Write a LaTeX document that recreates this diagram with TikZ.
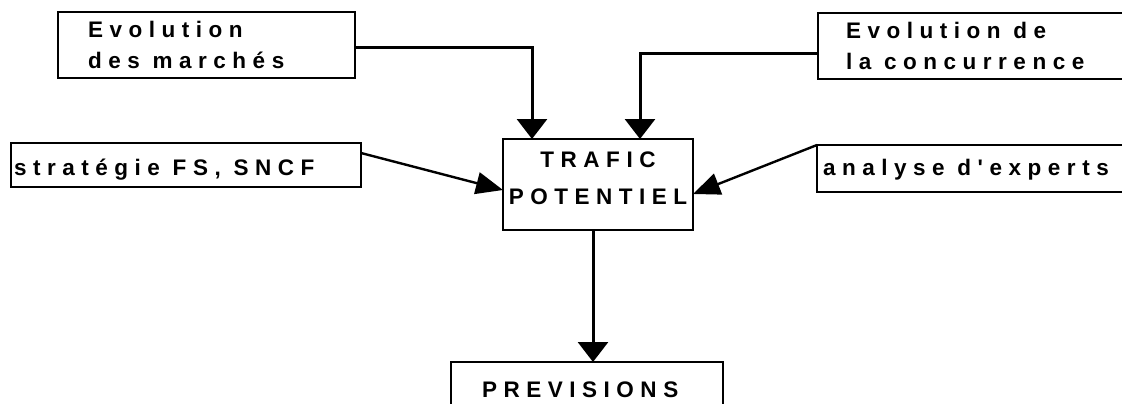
\documentclass[tikz,border=0pt]{standalone}
\usepackage{fontspec}
\usetikzlibrary{arrows.meta}
\newfontfamily\plotfont{Liberation Sans Bold}[LetterSpace=29]
\newcommand\plotface[1]{\plotfont\fontsize{22.5}{#1}\selectfont}
\begin{document}
\begin{tikzpicture}[x=1pt,y=-1pt,
  box/.style={draw, line width=2.2pt, rectangle, inner ysep=0pt, outer sep=0pt,
    font=\plotface{31},
    % keep the font's own interword space inside aligned text
    execute at begin node={\spaceskip=0pt\relax\xspaceskip=0pt\relax}},
  link/.style={line width=3pt, -{Triangle[width=30pt,length=20pt]}},
  slant/.style={line width=2.4pt, -{Triangle[width=22pt,length=27pt]}}]
\clip (0,0) rectangle (1122,404);
\fill[white] (0,0) rectangle (1122,404);

% input boxes
\node[box, anchor=north west, minimum width=297pt, minimum height=66pt,
  inner xsep=30pt, text width=237pt, align=left] (mar) at (58,12)
  {Evolution\\des marchés};
\node[box, anchor=north west, minimum width=330pt, minimum height=66pt,
  inner xsep=28pt, text width=274pt, align=left] (conc) at (818,13)
  {Evolution de\\la concurrence};
\node[box, anchor=north west, minimum width=350pt, minimum height=44pt,
  inner xsep=3pt, text width=344pt, align=left, text height=20pt, text depth=0pt] (strat) at (11,143)
  {stratégie FS, SNCF};
\node[box, anchor=north west, minimum width=330pt, minimum height=47pt,
  inner xsep=6pt, text width=318pt, align=left, text height=17pt, text depth=4pt] (ana) at (817,145)
  {analyse d'experts};

% central box and result
\node[box, anchor=north west, minimum width=190pt, minimum height=91pt,
  inner xsep=0pt, align=center, font=\plotface{37}] (traf) at (503,139)
  {TRAFIC\\POTENTIEL\rule[-12pt]{0pt}{12pt}};
\node[box, anchor=north west, minimum width=272pt, minimum height=70pt,
  inner xsep=31pt, text width=210pt, align=left, text height=16pt, text depth=16pt] (prev) at (451,362)
  {PREVISIONS};

% connectors
\draw[link] ([yshift=-3pt]mar.east) -| ([xshift=29pt]traf.north west);
\draw[link] ([yshift=-8pt]conc.west) -| ([xshift=-53pt]traf.north east);
\draw[slant] ([yshift=12pt]strat.east) -- ([yshift=-5.5pt]traf.west);
\draw[slant] (ana.north west) -- ([yshift=-9.5pt]traf.east);
\draw[link] ([xshift=-5pt]traf.south) -- ([xshift=6pt]prev.north);
\end{tikzpicture}
\end{document}
